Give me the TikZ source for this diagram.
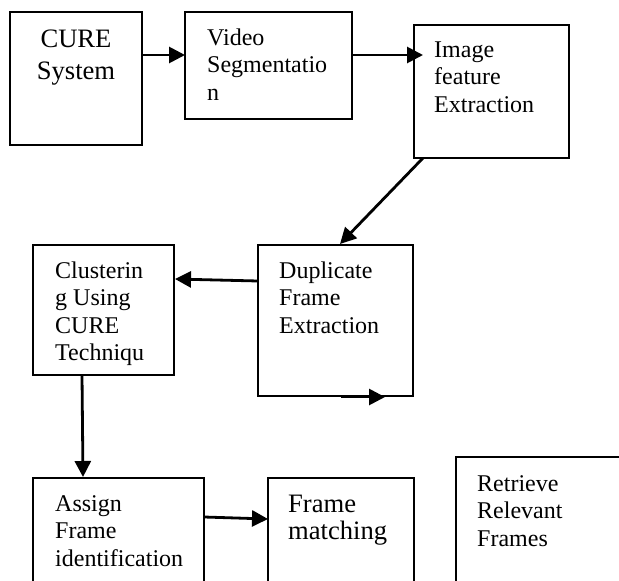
\documentclass[tikz,border=0pt]{standalone}
\usepackage{fontspec}
\setmainfont{Liberation Serif}
\usetikzlibrary{arrows.meta,calc}

% text sizes: body 24pt, larger captions 26.6pt
\newcommand{\bodytxt}{\fontsize{24}{27.5}\selectfont}
\newcommand{\bigtxt}{\fontsize{26.6}{32}\selectfont}
\newcommand{\topstrut}{\rule{0pt}{20pt}}

\tikzset{
  stagebox/.style={draw=black, line width=1.9pt, rectangle, inner sep=0pt, outer sep=0pt},
  stagetext/.style={anchor=north west, inner sep=0pt, align=left, font=\bodytxt},
  flow/.style={line width=2.8pt, -{Triangle[length=16pt,width=16pt]}}
}

% a box given by its corners (x1,y1) and (x2,y2)
\newcommand{\stage}[5]{%
  \node[stagebox, minimum width={#4-#2}, minimum height={#5-#3}]
    (#1) at ({(#2+#4)/2},{(#3+#5)/2}) {};}

\begin{document}
\begin{tikzpicture}[x=1pt,y=-1pt]
\useasboundingbox (0,0) rectangle (619,581);
\clip (0,0) rectangle (619,581);

% boxes
\stage{cure}{10}{12}{142}{145}
\stage{video}{185}{12}{352}{119}
\stage{image}{414}{25}{569}{158}
\stage{clust}{33}{245}{174}{375}
\stage{dup}{258}{245}{413}{396}
\stage{assign}{33}{478}{204}{620}
\stage{match}{268}{478}{414}{620}
\stage{retr}{456}{457}{660}{620}

% labels
\node[anchor=north, inner sep=0pt, align=center, font=\bigtxt]
  (tcure) at (76,{47-22}) {\rule{0pt}{22pt}CURE\\System};
\node[stagetext] (tvideo) at (207,{45-20}) {\topstrut Video\\Segmentatio\\n};
\node[stagetext] (timage) at (434,{57-20}) {\topstrut Image\\feature\\Extraction};
\node[stagetext] (tclust) at (55,{278-20}) {\topstrut Clusterin\\g Using\\CURE\\Techniqu};
\node[stagetext] (tdup) at (279,{278-20}) {\topstrut Duplicate\\Frame\\Extraction};
\node[stagetext] (tassign) at (55,{511-20}) {\topstrut Assign\\Frame\\identification};
\node[stagetext, font=\fontsize{26.6}{27}\selectfont]
  (tmatch) at (288,{512-22}) {\rule{0pt}{22pt}Frame\\matching};
\node[stagetext] (tretr) at (477,{491-20}) {\topstrut Retrieve\\Relevant\\Frames};

% connectors
\draw[flow] ($(cure.north east)+(0,43)$) -- ($(video.north west)+(0,43)$);
\draw[flow] ($(video.north east)+(0,43)$) -- ($(image.north west)+(9,30)$);
\draw[flow] ($(image.south west)+(9,0)$) -- ($(dup.north west)+(82,-1)$);
\draw[flow] ($(dup.north west)+(0,36)$) -- ($(clust.north east)+(1,34)$);
\draw[flow] ($(dup.south west)+(83,1)$) -- ($(dup.south west)+(127,1)$);
\draw[flow] ($(clust.south west)+(49,0)$) -- ($(assign.north west)+(50,-1)$);
\draw[flow] ($(assign.north east)+(0,39)$) -- ($(match.north west)+(0,41)$);
\end{tikzpicture}
\end{document}
